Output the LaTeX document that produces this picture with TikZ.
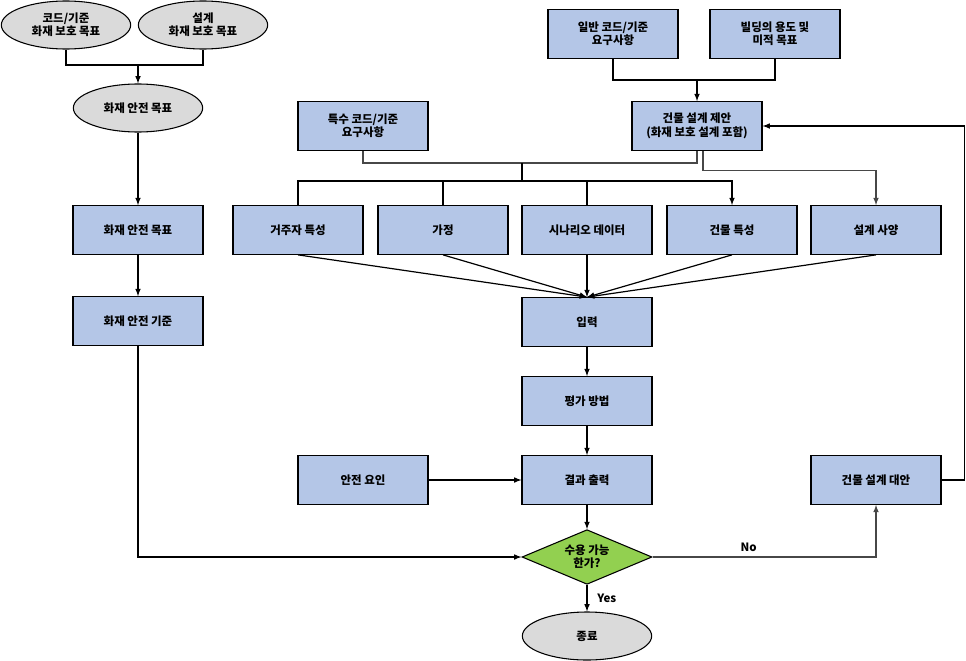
\documentclass[tikz,border=0pt]{standalone}
\usepackage{fontspec}
\setmainfont{Noto Sans CJK KR}
\usetikzlibrary{shapes.geometric}

\definecolor{boxblue}{HTML}{B4C6E7}
\definecolor{ovalgray}{HTML}{DADADA}
\definecolor{okgreen}{HTML}{92D050}

\begin{document}
\begin{tikzpicture}[x=0.75pt,y=-0.75pt,
  every node/.style={font=\fontsize{8.6}{10}\selectfont\bfseries, align=center},
  box/.style={draw, fill=boxblue, line width=0.8pt, minimum width=97.5pt, minimum height=36.5pt, inner sep=1pt},
  oval/.style={draw, ellipse, fill=ovalgray, line width=0.8pt, minimum width=97pt, minimum height=36pt, inner sep=0pt},
  decide/.style={draw, diamond, fill=okgreen, line width=0.8pt, minimum width=97.5pt, minimum height=41pt, aspect=2.36, inner sep=0pt},
  link/.style={line width=0.9pt},
  greylink/.style={line width=0.9pt, draw=black!72}]
  \useasboundingbox (0,0) rectangle (966,660);

  %% left column
  \node [oval] (codeGoal) at (66,25) {코드/기준\\화재 보호 목표};
  \node [oval] (dsgnGoal) at (203,25) {설계\\화재 보호 목표};
  \node [oval] (safeGoal) at (138,108) {화재 안전 목표};
  \node [box] (goalBox) at (138,230) {화재 안전 목표};
  \node [box] (critBox) at (138,321) {화재 안전 기준};

  %% top
  \node [box] (genReq) at (613,34) {일반 코드/기준\\요구사항};
  \node [box] (useGoal) at (775,34) {빌딩의 용도 및\\미적 목표};
  \node [box] (propBox) at (697,126) {건물 설계 제안\\(화재 보호 설계 포함)};
  \node [box] (specReq) at (363,126) {특수 코드/기준\\요구사항};

  %% inputs
  \node [box] (occBox) at (298,230) {거주자 특성};
  \node [box] (assmBox) at (443,230) {가정};
  \node [box] (scenBox) at (587,230) {시나리오 데이터};
  \node [box] (bldgBox) at (732,230) {건물 특성};
  \node [box] (specBox) at (876,230) {설계 사양};

  %% evaluation
  \node [box] (inBox) at (587,322) {입력};
  \node [box] (evalBox) at (587,401) {평가 방법};
  \node [box] (outBox) at (587,480) {결과 출력};
  \node [box] (safeBox) at (363,480) {안전 요인};
  \node [decide] (okBox) at (587,557) {수용 가능\\한가?};
  \node [oval] (endBox) at (587,636) {종료};
  \node [box] (altBox) at (876,480) {건물 설계 대안};

  \coordinate (jGoal) at (138,65);
  \coordinate (jTop) at (697,80);
  \coordinate (jSpec) at (522,163);
  \coordinate (jRow) at (522,181);

  %% goals
  \draw[link] (codeGoal.south) |- (jGoal) -| (dsgnGoal.south);
  \draw[link,-latex] (jGoal) -- (safeGoal.north);
  \draw[link,-latex] (safeGoal) -- (goalBox);
  \draw[link,-latex] (goalBox) -- (critBox);
  \draw[link,-latex] (critBox.south) |- (okBox.west);

  %% proposal
  \draw[link] (genReq.south) |- (jTop) -| (useGoal.south);
  \draw[link,-latex] (jTop) -- (propBox.north);
  \draw[greylink] (specReq.south) |- (jSpec) -| (propBox.south);
  \draw[link] (jSpec) -- (jRow);
  \draw[link] (occBox.north) |- (jRow);
  \draw[link] (assmBox.north) -- (assmBox.north |- jRow);
  \draw[link] (scenBox.north) -- (scenBox.north |- jRow);
  \draw[link,-latex] (jRow) -| (bldgBox.north);
  \draw[greylink,-latex] ([xshift=4.5pt]propBox.south) -- ++(0,20) -| (specBox.north);

  %% into input
  \foreach \b in {occBox,assmBox,scenBox,bldgBox,specBox}
    \draw[link,-latex] (\b.south) -- (inBox.north);

  \draw[link,-latex] (inBox) -- (evalBox);
  \draw[link,-latex] (evalBox) -- (outBox);
  \draw[link,-latex] (safeBox) -- (outBox);
  \draw[link,-latex] (outBox) -- (okBox);
  \draw[link,-latex] (okBox) -- node [right, xshift=4pt] {Yes} (endBox);

  %% No / loop back
  \draw[greylink,-latex] (okBox.east) -- node [above, pos=0.43] {No} (okBox.east -| altBox.south) -- (altBox.south);
  \draw[link,-latex] (altBox.east) -- ++(23,0) |- (propBox.east);

\end{tikzpicture}
\end{document}
